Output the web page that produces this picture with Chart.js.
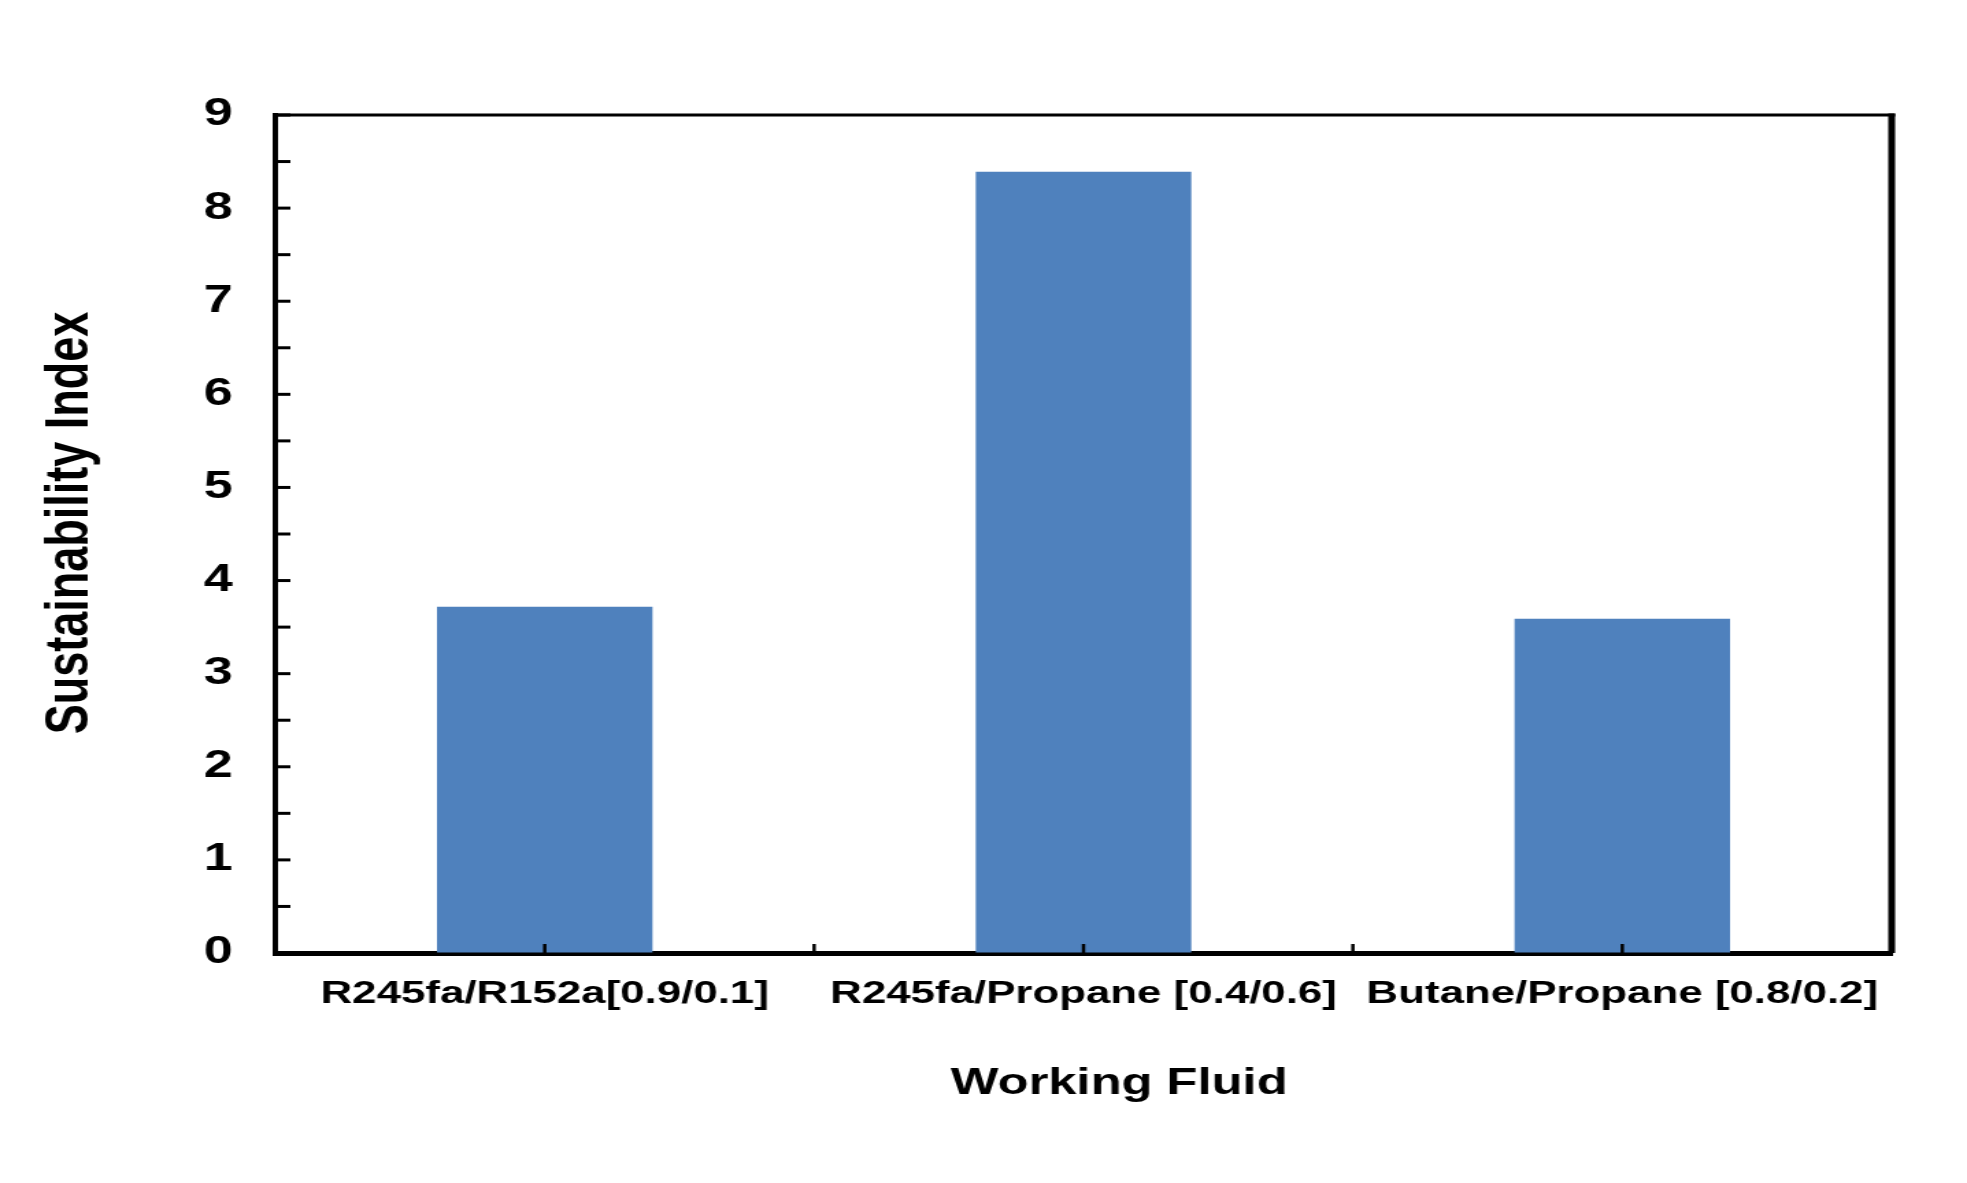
<!DOCTYPE html>
<html>
<head>
<meta charset="utf-8">
<script src="https://cdn.jsdelivr.net/npm/chart.js@4/dist/chart.umd.min.js"></script>
<style>
  html, body { margin: 0; padding: 0; background: #ffffff; overflow: hidden; }
  #wrap { width: 1436px; height: 1183px; transform: scaleX(1.36978); transform-origin: 0 0; }
</style>
</head>
<body>
<div id="wrap"><canvas id="c" width="1436" height="1183"></canvas></div>
<script>
const categories = ['R245fa/R152a[0.9/0.1]', 'R245fa/Propane [0.4/0.6]', 'Butane/Propane [0.8/0.2]'];
const sustainabilityIndex = [3.72, 8.39, 3.59];
const yMin = 0;
const yMax = 9;
const yStep = 0.5;
const xTitle = 'Working Fluid';
const yTitle = 'Sustainability Index';

const FONT = "'Liberation Sans', Arial, Helvetica, sans-serif";

const frameAndTicks = {
  id: 'frameAndTicks',
  afterDraw(chart) {
    const ctx = chart.ctx;
    const a = chart.chartArea;
    const xs = chart.scales.x;
    const ys = chart.scales.y;
    ctx.save();
    ctx.strokeStyle = '#000';
    // top border
    ctx.lineWidth = 3;
    ctx.beginPath();
    ctx.moveTo(a.left, a.top);
    ctx.lineTo(a.right + 2.5, a.top);
    ctx.stroke();
    // right border
    ctx.lineWidth = 5;
    ctx.beginPath();
    ctx.moveTo(a.right, a.top - 1.5);
    ctx.lineTo(a.right, a.bottom);
    ctx.stroke();
    // y ticks (inward)
    ctx.lineWidth = 3;
    ys.ticks.forEach(t => {
      const y = ys.getPixelForValue(t.value);
      ctx.beginPath();
      ctx.moveTo(a.left, y);
      ctx.lineTo(a.left + 11, y);
      ctx.stroke();
    });
    // x ticks (inward) at category centers and boundaries
    ctx.lineWidth = 2.5;
    const n = categories.length;
    const pts = [];
    for (let i = 0; i < n; i++) pts.push(xs.getPixelForValue(i));
    for (let i = 0; i < n - 1; i++) pts.push((xs.getPixelForValue(i) + xs.getPixelForValue(i + 1)) / 2);
    pts.forEach(x => {
      ctx.beginPath();
      ctx.moveTo(x, a.bottom);
      ctx.lineTo(x, a.bottom - 9);
      ctx.stroke();
    });
    // axis titles
    ctx.fillStyle = '#000';
    ctx.textAlign = 'center';
    ctx.textBaseline = 'middle';
    ctx.font = "bold 37px " + FONT;
    ctx.fillText(xTitle, (a.left + a.right) / 2 + 26, a.bottom + 131);
    ctx.save();
    ctx.translate(52, (a.top + a.bottom) / 2 - 11);
    ctx.rotate(-Math.PI / 2);
    ctx.font = "bold 45px " + FONT;
    ctx.fillText(yTitle, 0, 0);
    ctx.restore();
    ctx.restore();
  }
};

new Chart(document.getElementById('c'), {
  type: 'bar',
  data: {
    labels: categories,
    datasets: [{
      label: yTitle,
      data: sustainabilityIndex,
      backgroundColor: '#4f81bd',
      borderWidth: 0,
      barPercentage: 0.4,
      categoryPercentage: 1.0
    }]
  },
  options: {
    responsive: false,
    animation: false,
    devicePixelRatio: 1,
    layout: { padding: { left: 0, top: 115, right: 55, bottom: 0 } },
    plugins: {
      legend: { display: false },
      tooltip: { enabled: false }
    },
    scales: {
      x: {
        type: 'category',
        grid: { display: true, drawOnChartArea: false, drawTicks: false, color: 'rgba(0,0,0,0)' },
        border: { display: true, color: '#000', width: 5 },
        ticks: {
          color: '#000',
          font: { family: FONT, size: 32, weight: 'bold' },
          padding: 22,
          maxRotation: 0,
          autoSkip: false
        },
        title: { display: false, text: xTitle },
        afterFit(scale) { scale.height = 230; }
      },
      y: {
        min: yMin,
        max: yMax,
        grid: { display: true, drawOnChartArea: false, drawTicks: false, color: 'rgba(0,0,0,0)' },
        border: { display: true, color: '#000', width: 4 },
        ticks: {
          stepSize: yStep,
          autoSkip: false,
          color: '#000',
          padding: 31,
          font: { family: FONT, size: 38, weight: 'bold' },
          callback: v => Number.isInteger(v) ? String(v) : ''
        },
        title: { display: false, text: yTitle },
        afterFit(scale) { scale.width = 201; }
      }
    }
  },
  plugins: [frameAndTicks]
});
</script>
</body>
</html>
